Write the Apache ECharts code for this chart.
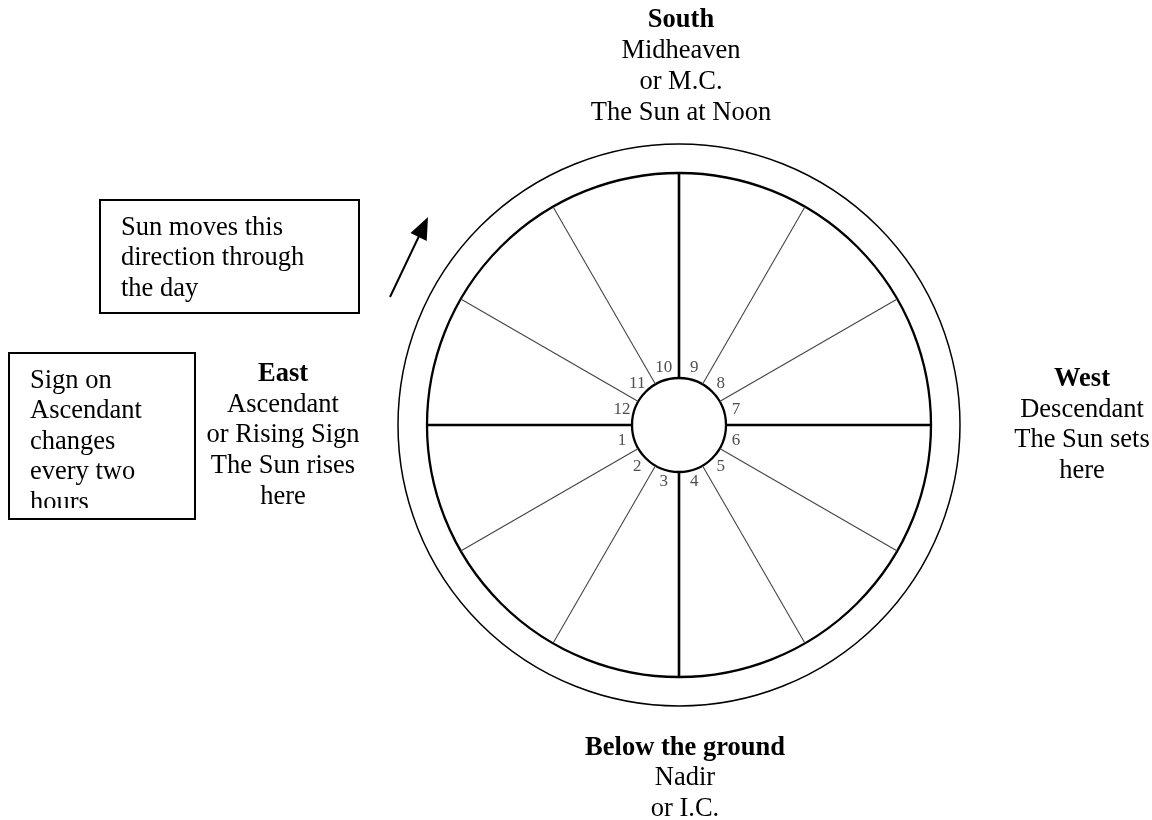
<!DOCTYPE html>
<html>
<head>
<meta charset="utf-8">
<script src="https://cdn.jsdelivr.net/npm/echarts@6/dist/echarts.min.js"></script>
<style>
  html, body { margin: 0; padding: 0; background: #fff; }
  #chart { width: 1152px; height: 820px; }
</style>
</head>
<body>
<div id="chart"></div>
<script>
// ---- Data ----
const cuspAngles = [0, 30, 60, 90, 120, 150, 180, 210, 240, 270, 300, 330];
const majorCusps = [0, 90, 180, 270];
const houseNumbers = ['1', '2', '3', '4', '5', '6', '7', '8', '9', '10', '11', '12'];
const houseLabelAngles = [195, 225, 255, 285, 315, 345, 15, 45, 75, 105, 135, 165];
const hubRadius = 47;
const wheelRadius = 252;
const outerRadius = 281;
const houseLabelRadius = 59;

const southLines = ['South', 'Midheaven', 'or M.C.', 'The Sun at Noon'];
const eastLines = ['East', 'Ascendant', 'or Rising Sign', 'The Sun rises', 'here'];
const westLines = ['West', 'Descendant', 'The Sun sets', 'here'];
const belowLines = ['Below the ground', 'Nadir', 'or I.C.'];
const sunBoxLines = ['Sun moves this', 'direction through', 'the day'];
const signBoxLines = ['Sign on', 'Ascendant', 'changes', 'every two', 'hours'];

// ---- Layout ----
const CX = 679, CY = 425;
const SERIF = '"Liberation Serif", "Times New Roman", serif';

function textBlock(lines, x, y0, step, align, boldFirst) {
  return lines.map((t, i) => ({
    type: 'text',
    z: 100,
    style: {
      text: t,
      x: x,
      y: y0 + i * step,
      textAlign: align,
      textVerticalAlign: 'middle',
      font: ((boldFirst && i === 0) ? 'bold ' : '') + '26.5px ' + SERIF,
      fill: '#000'
    }
  }));
}

const spokeSeries = cuspAngles.map(a => {
  const major = majorCusps.indexOf(a) >= 0;
  return {
    type: 'line',
    coordinateSystem: 'polar',
    polarIndex: 0,
    data: [[hubRadius, a], [wheelRadius, a]],
    symbol: 'none',
    silent: true,
    lineStyle: { color: major ? '#000' : '#444', width: major ? 2.6 : 1.1 },
    z: 3
  };
});

const labelSeries = {
  type: 'scatter',
  coordinateSystem: 'polar',
  polarIndex: 0,
  symbolSize: 0,
  silent: true,
  data: houseNumbers.map((n, i) => ({ name: n, value: [houseLabelRadius, houseLabelAngles[i]] })),
  label: {
    show: true,
    position: 'inside',
    formatter: '{b}',
    fontFamily: SERIF,
    fontSize: 17,
    color: '#222'
  }
};

const hiddenRadius = {
  type: 'value',
  axisLine: { show: false }, axisTick: { show: false },
  axisLabel: { show: false }, splitLine: { show: false }
};

const option = {
  animation: false,
  backgroundColor: '#fff',
  polar: [
    { center: [CX, CY], radius: [hubRadius, wheelRadius] },
    { center: [CX, CY], radius: [0, outerRadius] }
  ],
  angleAxis: [
    {
      polarIndex: 0, type: 'value', min: 0, max: 360, startAngle: 0, clockwise: false,
      axisLine: { show: true, lineStyle: { color: '#000', width: 2.3 } },
      axisTick: { show: false }, axisLabel: { show: false }, splitLine: { show: false }
    },
    {
      polarIndex: 1, type: 'value', min: 0, max: 360, startAngle: 0, clockwise: false,
      axisLine: { show: true, lineStyle: { color: '#000', width: 1.5 } },
      axisTick: { show: false }, axisLabel: { show: false }, splitLine: { show: false }
    }
  ],
  radiusAxis: [
    Object.assign({ polarIndex: 0, min: hubRadius, max: wheelRadius }, hiddenRadius),
    Object.assign({ polarIndex: 1, min: 0, max: outerRadius }, hiddenRadius)
  ],
  series: spokeSeries.concat([labelSeries]),
  graphic: {
    elements: []
      .concat(textBlock(southLines, 681, 20, 31, 'center', true))
      .concat(textBlock(eastLines, 283, 374, 30.7, 'center', true))
      .concat(textBlock(westLines, 1082, 379, 30.7, 'center', true))
      .concat(textBlock(belowLines, 685, 748, 30.5, 'center', true))
      .concat(textBlock(sunBoxLines, 121, 228, 30.5, 'left', false))
      .concat(textBlock(signBoxLines, 30, 381, 30.5, 'left', false))
      .concat([
        { type: 'rect', z: 101, shape: { x: 11, y: 508, width: 182, height: 10 }, style: { fill: '#fff' } },
        { type: 'rect', z: 102, shape: { x: 100, y: 200, width: 259, height: 113 }, style: { fill: null, stroke: '#000', lineWidth: 2 } },
        { type: 'rect', z: 102, shape: { x: 9, y: 353, width: 186, height: 166 }, style: { fill: null, stroke: '#000', lineWidth: 2 } },
        { type: 'line', z: 102, shape: { x1: 390, y1: 297, x2: 420, y2: 234 }, style: { stroke: '#000', lineWidth: 2 } },
        { type: 'polygon', z: 102, shape: { points: [[428, 217], [410.5, 233], [426.7, 241]] }, style: { fill: '#000' } }
      ])
  }
};

const chart = echarts.init(document.getElementById('chart'), null, { renderer: 'canvas' });
chart.setOption(option);
</script>
</body>
</html>
